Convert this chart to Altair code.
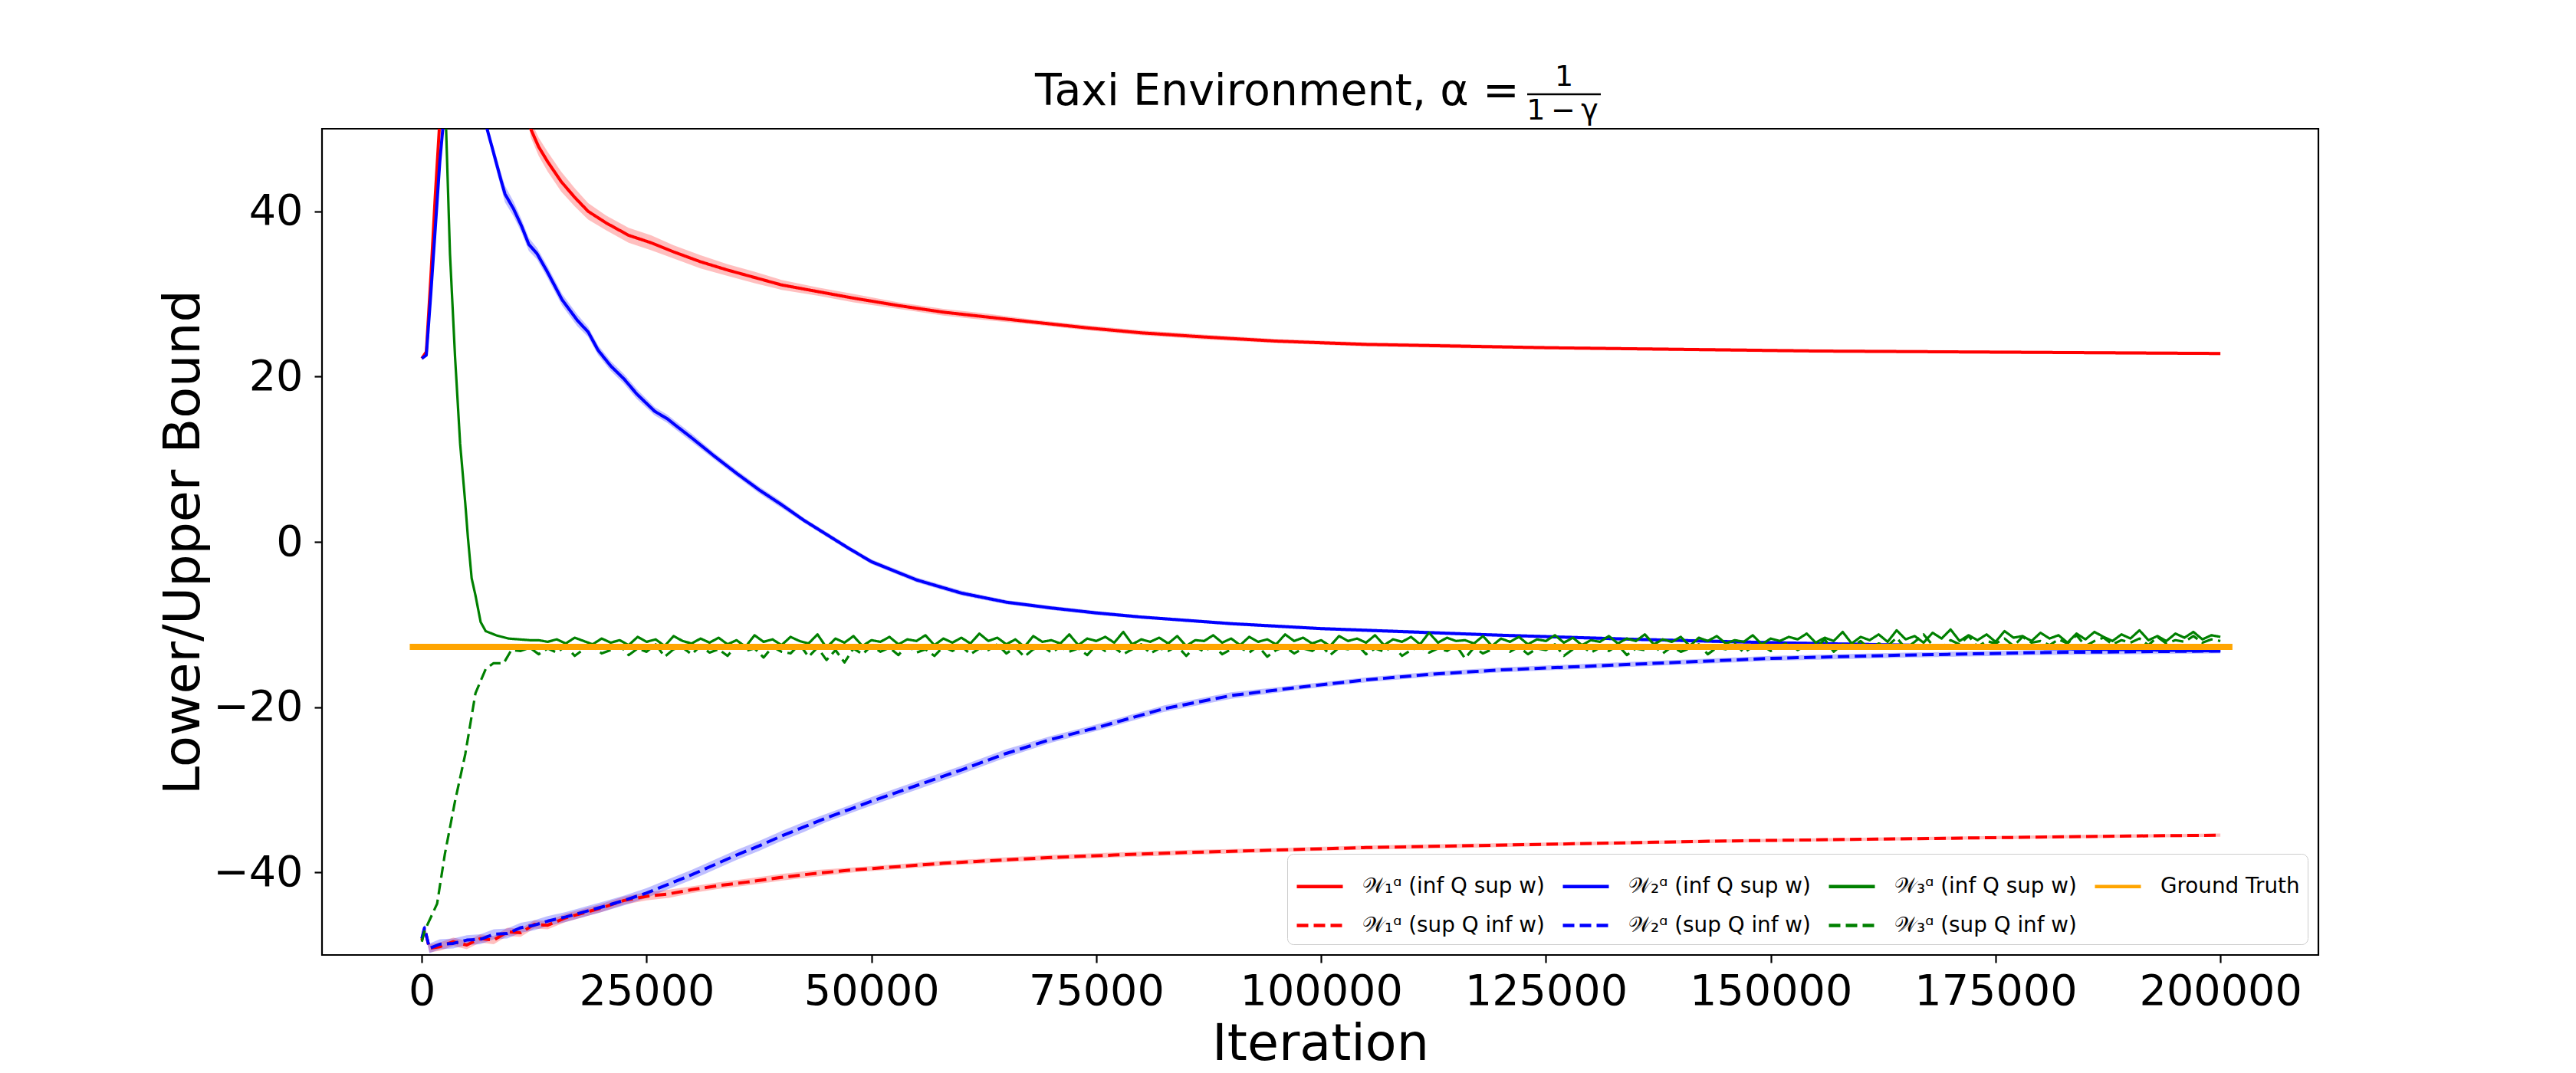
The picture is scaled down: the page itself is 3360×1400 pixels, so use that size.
import altair as alt
import pandas as pd

# ---------------- data ----------------
red_inf_x = [0, 500, 1000, 1500, 2000, 3000, 5000, 8000, 11000, 12100,
             13000, 14000, 15500, 17000, 18500, 20500, 23000, 25500, 28000, 31000,
             34000, 37000, 40000, 44000, 48000, 53000, 58000, 63000, 68000, 74000,
             80000, 87000, 95000, 105000, 115000, 125000, 140000, 155000, 170000, 185000, 200000]
red_inf_y = [22.2, 23.0, 32.0, 42.0, 51.0, 70.0, 110.0, 90.0, 60.0, 50.0,
             47.8, 46.0, 43.6, 41.7, 40.0, 38.6, 37.1, 36.2, 35.1, 33.9,
             32.9, 32.0, 31.1, 30.3, 29.5, 28.6, 27.8, 27.2, 26.6, 25.9,
             25.3, 24.8, 24.3, 23.9, 23.7, 23.5, 23.3, 23.1, 23.0, 22.9, 22.8]
red_inf_sd = [0.2, 0.2, 0.2, 0.2, 0.2, 0.2, 0.2, 0.2, 0.2, 1.0,
              1.1, 1.2, 1.2, 1.1, 1.0, 0.9, 0.9, 0.9, 0.8, 0.8,
              0.7, 0.7, 0.6, 0.5, 0.5, 0.4, 0.4, 0.4, 0.3, 0.3,
              0.3, 0.3, 0.25, 0.25, 0.25, 0.2, 0.2, 0.2, 0.2, 0.2, 0.2]

blue_inf_x = [0, 500, 1000, 1500, 2000, 2500, 3500, 5000, 6500, 7250,
              8000, 8800, 9250, 10200, 11100, 11900, 12800, 13900, 15600, 17300,
              18500, 19600, 21000, 22500, 23900, 25900, 27300, 28100, 30000, 32500,
              35000, 37500, 40000, 42500, 45000, 47500, 50000, 55000, 60000, 65000,
              70000, 75000, 80000, 90000, 100000, 110000, 120000, 135000, 150000, 165000,
              180000, 200000]
blue_inf_y = [22.2, 22.6, 30.0, 38.0, 46.0, 52.0, 70.0, 90.0, 65.0, 50.0,
              47.0, 43.8, 42.1, 40.3, 38.2, 36.0, 34.9, 32.8, 29.3, 26.8,
              25.4, 23.2, 21.3, 19.7, 17.9, 15.8, 14.9, 14.2, 12.6, 10.4,
              8.3, 6.3, 4.5, 2.6, 0.9, -0.8, -2.4, -4.6, -6.2, -7.3,
              -8.0, -8.6, -9.1, -9.9, -10.5, -10.9, -11.3, -11.8, -12.2, -12.5,
              -12.9, -13.2]
blue_inf_sd = [0.2, 0.2, 0.2, 0.2, 0.2, 0.2, 0.2, 0.2, 0.2, 0.2,
               0.8, 0.9, 1.0, 0.9, 0.8, 0.8, 0.7, 0.7, 0.7, 0.7,
               0.6, 0.6, 0.6, 0.6, 0.6, 0.5, 0.5, 0.5, 0.5, 0.4,
               0.4, 0.4, 0.4, 0.3, 0.3, 0.3, 0.3, 0.3, 0.3, 0.25,
               0.25, 0.25, 0.2, 0.2, 0.2, 0.2, 0.2, 0.2, 0.2, 0.2,
               0.2, 0.2]

red_sup_x = [0, 300, 850, 2000, 3500, 5000, 6500, 8000, 9500, 11000,
             12500, 14000, 16000, 18000, 20000, 22500, 25000, 27500, 30000, 33000,
             36000, 40000, 44000, 48000, 53000, 58000, 63000, 70000, 77000, 85000,
             95000, 105000, 115000, 130000, 145000, 160000, 175000, 190000, 200000]
red_sup_y = [-48.2, -46.8, -49.2, -49.0, -48.4, -48.8, -48.0, -48.2, -47.2, -47.3,
             -46.3, -46.4, -45.5, -44.9, -44.3, -43.4, -42.9, -42.6, -42.1, -41.6,
             -41.2, -40.6, -40.1, -39.7, -39.3, -38.9, -38.6, -38.2, -37.9, -37.6,
             -37.3, -37.0, -36.8, -36.5, -36.2, -36.0, -35.8, -35.6, -35.5]
red_sup_sd = [0.3, 0.4, 0.5, 0.5, 0.5, 0.5, 0.5, 0.5, 0.5, 0.5,
              0.5, 0.5, 0.5, 0.5, 0.5, 0.5, 0.5, 0.5, 0.4, 0.4,
              0.4, 0.4, 0.4, 0.3, 0.3, 0.3, 0.3, 0.3, 0.3, 0.3,
              0.25, 0.25, 0.25, 0.2, 0.2, 0.2, 0.2, 0.2, 0.2]

blue_sup_x = [0, 300, 850, 2000, 3500, 5000, 6500, 8000, 9500, 11000,
              12500, 14000, 16000, 18000, 20000, 22500, 25000, 27500, 30000, 32500,
              35000, 37500, 40000, 42500, 45000, 47500, 50000, 55000, 60000, 65000,
              70000, 75000, 82500, 90000, 97500, 105000, 112500, 120000, 135000, 150000,
              165000, 180000, 200000]
blue_sup_y = [-48.0, -46.7, -49.2, -48.7, -48.6, -48.2, -48.1, -47.5, -47.4, -46.7,
              -46.4, -45.9, -45.4, -44.8, -44.2, -43.4, -42.5, -41.4, -40.3, -39.1,
              -37.9, -36.8, -35.6, -34.5, -33.4, -32.4, -31.4, -29.5, -27.6, -25.6,
              -23.9, -22.5, -20.2, -18.6, -17.6, -16.7, -16.0, -15.5, -14.8, -14.1,
              -13.7, -13.4, -13.2]
blue_sup_sd = [0.3, 0.4, 0.6, 0.6, 0.6, 0.6, 0.6, 0.6, 0.6, 0.6,
               0.6, 0.6, 0.6, 0.6, 0.6, 0.6, 0.6, 0.6, 0.6, 0.6,
               0.6, 0.6, 0.6, 0.6, 0.5, 0.5, 0.5, 0.5, 0.5, 0.5,
               0.4, 0.4, 0.4, 0.4, 0.3, 0.3, 0.3, 0.3, 0.3, 0.3,
               0.3, 0.3, 0.3]

green_inf_head_x = [2000, 2700, 3130, 3690, 4260, 4830, 5120, 5540, 5970, 6540, 7100, 8240, 9630, 12000]
green_inf_head_y = [70.0, 50.0, 34.9, 22.5, 11.9, 4.7, 0.6, -4.4, -6.5, -9.7, -10.8, -11.3, -11.7, -11.9]
green_inf_tail_start, green_inf_tail_step = 13000, 1000
green_inf_tail_y = [
    -11.9, -12.1, -11.8, -12.3, -11.6, -12.0, -12.4, -11.7, -12.2, -11.9,
    -12.5, -11.5, -12.1, -11.8, -12.6, -11.4, -12.0, -12.3, -11.7, -12.2,
    -11.6, -12.4, -11.9, -12.7, -11.3, -12.1, -11.8, -12.5, -11.5, -12.0,
    -12.3, -11.2, -12.8, -11.7, -12.2, -11.4, -12.6, -11.9, -12.1, -11.5,
    -12.4, -11.8, -12.0, -11.3, -12.5, -11.7, -12.2, -11.6, -12.3, -11.1,
    -12.0, -11.6, -12.4, -11.8, -12.7, -11.4, -12.1, -11.9, -12.3, -11.2,
    -12.5, -11.7, -12.0, -11.5, -12.2, -10.9, -12.4, -11.8, -12.1, -11.6,
    -12.3, -11.4, -12.6, -11.9, -12.0, -11.3, -12.2, -11.7, -12.5, -11.5,
    -12.1, -11.8, -12.4, -11.2, -12.0, -11.6, -12.3, -11.9, -12.6, -11.4,
    -12.0, -11.7, -12.2, -11.3, -12.5, -11.8, -12.1, -11.5, -12.4, -11.0,
    -12.2, -11.6, -12.0, -11.9, -12.3, -11.4, -12.6, -11.7, -12.1, -11.5,
    -12.4, -11.8, -12.0, -11.3, -12.2, -11.6, -12.5, -11.9, -12.1, -11.4,
    -12.3, -11.7, -12.0, -11.2, -12.4, -11.8, -12.1, -11.5, -12.6, -11.6,
    -12.0, -11.4, -12.3, -11.9, -12.1, -11.3, -12.4, -11.7, -12.0, -11.5,
    -11.8, -11.1, -12.2, -11.6, -12.0, -10.9, -12.3, -11.5, -11.9, -11.2,
    -12.1, -10.7, -11.8, -11.4, -12.2, -11.0, -11.7, -10.6, -12.0, -11.3,
    -11.9, -11.2, -12.1, -10.8, -11.6, -11.4, -12.0, -11.0, -11.7, -11.3,
    -12.2, -11.1, -11.8, -10.9, -11.5, -12.0, -11.2, -11.7, -10.7, -11.9,
    -11.4, -12.0, -11.1, -11.6, -10.9, -11.8, -11.3, -11.5]

green_sup_head_x = [0, 300, 1700, 2560, 3690, 4830, 5970, 7100, 7950, 9100, 9950]
green_sup_head_y = [-48.4, -47.1, -43.8, -37.8, -31.4, -25.7, -18.3, -15.4, -14.7, -14.7, -13.1]
green_sup_tail_start, green_sup_tail_step = 11000, 1000
green_sup_tail_y = [
    -13.2, -12.8, -13.6, -12.9, -13.4, -12.6, -13.8, -13.0, -12.7, -13.5,
    -13.1, -12.5, -13.7, -12.9, -13.3, -12.4, -13.9, -13.0, -12.8, -13.6,
    -12.6, -13.4, -13.0, -13.8, -12.5, -13.2, -12.9, -14.0, -12.7, -13.3,
    -13.5, -12.4, -13.9, -12.8, -14.3, -13.1, -14.6, -12.9, -13.6, -12.6,
    -13.3, -12.8, -13.7, -12.5, -13.4, -13.0, -13.8, -12.7, -13.2, -12.6,
    -13.6, -12.9, -13.1, -12.4, -13.5, -12.8, -13.9, -13.0, -12.6, -13.4,
    -12.7, -13.3, -12.9, -13.7, -12.5, -13.2, -12.8, -13.6, -13.0, -12.4,
    -13.5, -12.9, -13.2, -12.6, -13.8, -12.7, -13.3, -12.5, -13.6, -13.0,
    -12.8, -13.4, -12.6, -13.9, -13.1, -12.7, -13.5, -12.9, -13.2, -12.5,
    -13.7, -12.8, -13.0, -12.4, -13.6, -12.9, -13.3, -12.6, -13.8, -13.1,
    -12.7, -13.4, -12.9, -13.2, -12.5, -14.1, -12.8, -13.5, -13.0, -12.6,
    -13.3, -12.7, -13.6, -12.9, -13.1, -12.4, -13.8, -13.0, -12.6, -13.4,
    -12.8, -13.2, -12.5, -13.7, -12.9, -13.1, -12.6, -13.5, -12.7, -13.3,
    -12.9, -12.4, -13.6, -12.8, -13.0, -12.3, -13.4, -12.7, -12.5, -13.2,
    -12.6, -12.2, -13.1, -12.5, -12.9, -11.8, -13.3, -12.4, -12.7, -12.0,
    -13.0, -12.3, -12.6, -11.6, -12.9, -12.1, -11.2, -12.5, -12.8, -11.9,
    -12.4, -11.4, -12.7, -12.0, -12.3, -11.7, -12.6, -11.5, -12.2, -12.0,
    -12.5, -11.8, -12.3, -11.3, -12.6, -12.0, -11.6, -12.4, -11.9, -12.2,
    -11.7, -12.5, -11.5, -12.3, -11.9, -12.1, -11.4, -12.2, -11.8, -12.0]

truth_x = [-1000, 201000]
truth_y = [-12.7, -12.7]

x_ticks = [0, 25000, 50000, 75000, 100000, 125000, 150000, 175000, 200000]
y_ticks = [-40, -20, 0, 20, 40]

S_R_INF = "𝒲₁ᵅ (inf Q sup w)"
S_R_SUP = "𝒲₁ᵅ (sup Q inf w)"
S_B_INF = "𝒲₂ᵅ (inf Q sup w)"
S_B_SUP = "𝒲₂ᵅ (sup Q inf w)"
S_G_INF = "𝒲₃ᵅ (inf Q sup w)"
S_G_SUP = "𝒲₃ᵅ (sup Q inf w)"
S_GT = "Ground Truth"

line_width = {S_R_INF: 4, S_R_SUP: 4, S_B_INF: 4, S_B_SUP: 4, S_G_INF: 3.2, S_G_SUP: 3.2, S_GT: 8}

# ---------------- tables ----------------
def rows(name, xs, ys, sds=None):
    assert len(xs) == len(ys), name
    if sds is not None:
        assert len(sds) == len(xs), name
    out = []
    for i, (a, b) in enumerate(zip(xs, ys)):
        s = sds[i] if sds is not None else 0.0
        out.append({"x": a, "y": b, "lo": b - s, "hi": b + s, "series": name, "w": line_width[name]})
    return out

g_inf_x = green_inf_head_x + [green_inf_tail_start + i * green_inf_tail_step for i in range(len(green_inf_tail_y))]
g_inf_y = green_inf_head_y + green_inf_tail_y
g_sup_x = green_sup_head_x + [green_sup_tail_start + i * green_sup_tail_step for i in range(len(green_sup_tail_y))]
g_sup_y = green_sup_head_y + green_sup_tail_y

red_band_rows = rows(S_R_INF, red_inf_x, red_inf_y, red_inf_sd) + rows(S_R_SUP, red_sup_x, red_sup_y, red_sup_sd)
blue_band_rows = rows(S_B_INF, blue_inf_x, blue_inf_y, blue_inf_sd) + rows(S_B_SUP, blue_sup_x, blue_sup_y, blue_sup_sd)
line_rows = (rows(S_R_INF, red_inf_x, red_inf_y) + rows(S_R_SUP, red_sup_x, red_sup_y)
             + rows(S_B_INF, blue_inf_x, blue_inf_y) + rows(S_B_SUP, blue_sup_x, blue_sup_y)
             + rows(S_G_INF, g_inf_x, g_inf_y) + rows(S_G_SUP, g_sup_x, g_sup_y))
truth_rows = rows(S_GT, truth_x, truth_y)

red_bands = pd.DataFrame(red_band_rows)
blue_bands = pd.DataFrame(blue_band_rows)
lines = pd.DataFrame(line_rows)
truth = pd.DataFrame(truth_rows)

# legend fills column by column: (W1 inf, W1 sup), (W2 inf, W2 sup), (W3 inf, W3 sup), (Ground Truth)
domain = [S_R_INF, S_R_SUP, S_B_INF, S_B_SUP, S_G_INF, S_G_SUP, S_GT]
colors = ["#ff0000", "#ff0000", "#0000ff", "#0000ff", "#008000", "#008000", "#ffa500"]
dashes = [[1, 0], [15, 7], [1, 0], [15, 7], [1, 0], [15, 7], [1, 0]]

FONT = "DejaVu Sans"
W, H = 2604, 1078

xs = alt.Scale(domain=[-11100, 210900], nice=False, zero=False)
ys = alt.Scale(domain=[-50, 50], nice=False, zero=False)

legend = alt.Legend(
    title=None, orient="bottom-right", offset=14, columns=4,
    symbolType="stroke", symbolSize=3600, symbolStrokeWidth=4.5,
    labelFontSize=27.8, labelFont=FONT, labelColor="black",
    padding=10, fillColor="white", strokeColor="#cccccc",
    cornerRadius=8, columnPadding=14, rowPadding=4, labelOffset=23, labelLimit=0,
    symbolOpacity=1,
)

color_enc = alt.Color("series:N", scale=alt.Scale(domain=domain, range=colors), legend=legend)
dash_enc = alt.StrokeDash("series:N", scale=alt.Scale(domain=domain, range=dashes), legend=legend)
width_enc = alt.StrokeWidth("w:Q", scale=None)

x_enc = alt.X("x:Q", scale=xs, title="Iteration",
              axis=alt.Axis(values=x_ticks, format="d", labelFlush=False, labelOverlap=False))
y_enc = alt.Y("y:Q", scale=ys, title="Lower/Upper Bound",
              axis=alt.Axis(values=y_ticks, labelOverlap=False))


def band(df, col):
    return alt.Chart(df).mark_area(opacity=0.25, clip=True, color=col).encode(
        x=alt.X("x:Q", scale=xs, title="Iteration"),
        y=alt.Y("lo:Q", scale=ys, title="Lower/Upper Bound"),
        y2="hi:Q",
        detail="series:N",
    )


line_layer = alt.Chart(lines).mark_line(clip=True, strokeJoin="round").encode(
    x=x_enc, y=y_enc, color=color_enc, strokeDash=dash_enc, strokeWidth=width_enc,
    order="x:Q",
)

truth_layer = alt.Chart(truth).mark_line(clip=True, strokeCap="square").encode(
    x=alt.X("x:Q", scale=xs), y=alt.Y("y:Q", scale=ys),
    color=color_enc, strokeDash=dash_enc, strokeWidth=width_enc,
)

title_df = pd.DataFrame([{"k": 1}])
title_main = alt.Chart(title_df).mark_text(
    font=FONT, fontSize=57, align="left", baseline="alphabetic", color="black", clip=False
).encode(x=alt.value(930), y=alt.value(-31), text=alt.value("Taxi Environment, α ="))
title_num = alt.Chart(title_df).mark_text(
    font=FONT, fontSize=38, align="center", baseline="alphabetic", color="black", clip=False
).encode(x=alt.value(1620), y=alt.value(-56), text=alt.value("1"))
title_den = alt.Chart(title_df).mark_text(
    font=FONT, fontSize=38, align="center", baseline="alphabetic", color="black", clip=False
).encode(x=alt.value(1618), y=alt.value(-12), text=alt.value("1\u2009−\u2009γ"))
title_bar = alt.Chart(title_df).mark_rule(color="black", strokeWidth=2.5, clip=False).encode(
    x=alt.value(1572), x2=alt.value(1668), y=alt.value(-45)
)

chart = alt.layer(
    band(red_bands, "#ff0000"), band(blue_bands, "#0000ff"), line_layer, truth_layer,
    title_main, title_num, title_den, title_bar
).properties(
    width=W, height=H,
    autosize=alt.AutoSizeParams(type="none"),
    padding={"left": 412, "top": 160, "right": 300, "bottom": 152},
    background="white",
).configure_view(
    stroke="black", strokeWidth=2.2
).configure_axis(
    labelFont=FONT, labelFontSize=55.6, labelColor="black", labelLimit=0,
    titleFont=FONT, titleFontSize=66.7, titleFontWeight="normal", titleColor="black",
    tickColor="black", tickWidth=2.2, tickSize=10, domain=False, grid=False,
).configure_axisX(
    labelPadding=10, titlePadding=8,
).configure_axisY(
    labelPadding=15, titlePadding=4,
)

chart.save("out.html", embed_options={"renderer": "svg", "actions": False})
